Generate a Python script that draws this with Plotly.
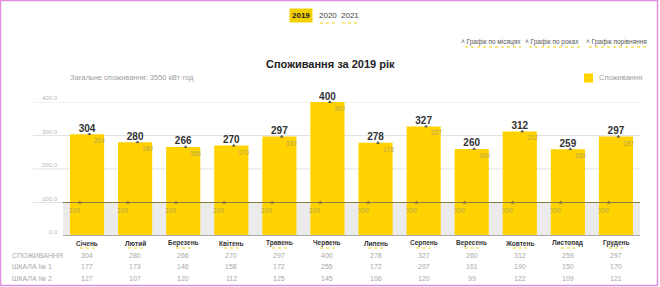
import plotly.graph_objects as go

months = ["Січень", "Лютий", "Березень", "Квітень", "Травень", "Червень",
          "Липень", "Серпень", "Вересень", "Жовтень", "Листопад", "Грудень"]
consumption = [304, 280, 266, 270, 297, 400, 278, 327, 260, 312, 259, 297]
scale1 = [177, 173, 146, 158, 172, 255, 172, 207, 161, 190, 150, 170]
scale2 = [127, 107, 120, 112, 125, 145, 106, 120, 99, 122, 109, 121]
inner_labels = [204, 180, 166, 170, 197, 300, 178, 227, 160, 212, 159, 197]
base_level = 100
y_ticks = [0, 100, 200, 300, 400]
row_names = ["СПОЖИВАННЯ", "ШКАЛА № 1", "ШКАЛА № 2"]
years = ["2019", "2020", "2021"]
links = ["˄ Графік по місяцях", "˄ Графік по роках", "˄ Графік порівняння"]
total = 3550

FONT = "Liberation Sans, Arial, sans-serif"
YELLOW = "#FFD200"
x = list(range(len(months)))

L, R, T, B = 63, 640, 102, 236
def px(q):
    return (q - L) / (R - L)
def py(p):
    return (B - p) / (B - T)

fig = go.Figure()
fig.add_trace(go.Bar(x=x, y=consumption, marker=dict(color=YELLOW, line=dict(width=0)),
                     name="Споживання", showlegend=False, hoverinfo="skip"))
fig.add_trace(go.Scatter(x=x, y=consumption, mode="text",
                         text=["<b>" + str(v) + "</b>" for v in consumption],
                         textposition="top center", cliponaxis=False, showlegend=False,
                         textfont=dict(family=FONT, size=10, color="#333333"), hoverinfo="skip"))
fig.add_trace(go.Scatter(x=[i + 0.05 for i in x], y=consumption, mode="markers", showlegend=False,
                         marker=dict(symbol="triangle-up", size=3.5, color="#555555"),
                         cliponaxis=False, hoverinfo="skip"))
fig.add_trace(go.Scatter(x=[i - 0.15 for i in x], y=[base_level] * len(x), mode="markers",
                         showlegend=False, marker=dict(symbol="triangle-up", size=3.5, color="#555555"),
                         cliponaxis=False, hoverinfo="skip"))

ann = []
shapes = []
shapes.append(dict(type="rect", xref="paper", yref="y", x0=0, x1=1, y0=0, y1=base_level,
                   fillcolor="#ebebeb", line=dict(width=0), layer="below"))
for t in y_ticks[2:]:
    shapes.append(dict(type="line", xref="paper", yref="y", x0=px(33), x1=1, y0=t, y1=t,
                       line=dict(color="#e2e2e2", width=1), layer="below"))
shapes.append(dict(type="line", xref="paper", yref="y", x0=px(33), x1=0, y0=base_level, y1=base_level,
                   line=dict(color="#e2e2e2", width=1), layer="below"))
shapes.append(dict(type="line", xref="paper", yref="y", x0=0, x1=1, y0=base_level, y1=base_level,
                   line=dict(color="#8c7b3a", width=1), layer="above"))
shapes.append(dict(type="line", xref="paper", yref="y", x0=0, x1=1, y0=0, y1=0,
                   line=dict(color="#a8a8a8", width=2), layer="above"))

for i in x:
    ann.append(dict(x=i, y=consumption[i], xref="x", yref="y", text=str(inner_labels[i]),
                    showarrow=False, xanchor="left", yanchor="top", xshift=5, yshift=-1,
                    font=dict(family=FONT, size=6.5, color="#b3a25a")))
    ann.append(dict(x=i, y=base_level, xref="x", yref="y", text=str(base_level),
                    showarrow=False, xanchor="right", yanchor="top", xshift=-5, yshift=-2,
                    font=dict(family=FONT, size=6.5, color="#b3a25a")))
    ann.append(dict(x=i, y=py(243), xref="x", yref="paper", text="<b>" + months[i] + "</b>",
                    showarrow=False, xanchor="center", yanchor="middle",
                    font=dict(family=FONT, size=6.5, color="#333333")))
    shapes.append(dict(type="line", xref="x", yref="paper", x0=i - 0.15, x1=i + 0.15,
                       y0=py(248), y1=py(248), line=dict(color="#f0d000", width=1, dash="dot")))
    for r, row in enumerate([consumption, scale1, scale2]):
        ann.append(dict(x=i, y=py(255 + r * 11.5), xref="x", yref="paper", text=str(row[i]),
                        showarrow=False, xanchor="center", yanchor="middle",
                        font=dict(family=FONT, size=7, color="#a8a8a8")))

for r, name in enumerate(row_names):
    ann.append(dict(x=px(10), y=py(255 + r * 11.5), xref="paper", yref="paper", text=name,
                    showarrow=False, xanchor="left", yanchor="middle",
                    font=dict(family=FONT, size=7, color="#a8a8a8")))

for t in y_ticks:
    ann.append(dict(x=px(60), y=t, xref="paper", yref="y", text=f"{t:.1f}", showarrow=False,
                    xanchor="right", yanchor="bottom", yshift=-1,
                    font=dict(family=FONT, size=6, color="#b8b8b8")))

ann.append(dict(x=px(330), y=py(64), xref="paper", yref="paper", text="<b>Споживання за 2019 рік</b>",
                showarrow=False, xanchor="center", yanchor="middle",
                font=dict(family=FONT, size=11, color="#222222")))
ann.append(dict(x=px(68), y=py(78), xref="paper", yref="paper",
                text=f"Загальне споживання: {total} кВт·год", showarrow=False,
                xanchor="left", yanchor="middle", font=dict(family=FONT, size=7.5, color="#a0a0a0")))

shapes.append(dict(type="rect", xref="paper", yref="paper", x0=px(584), x1=px(593),
                   y0=py(82.5), y1=py(73.5), fillcolor=YELLOW, line=dict(width=0)))
ann.append(dict(x=px(597), y=py(78), xref="paper", yref="paper", text="Споживання",
                showarrow=False, xanchor="left", yanchor="middle",
                font=dict(family=FONT, size=7.5, color="#a0a0a0")))

ycent = [301, 328, 350]
for k, yr in enumerate(years):
    if k == 0:
        ann.append(dict(x=px(ycent[k]), y=py(16), xref="paper", yref="paper", text="<b>" + yr + "</b>",
                        showarrow=False, xanchor="center", yanchor="middle", bgcolor="#f5d000",
                        borderpad=2, font=dict(family=FONT, size=8, color="#222222")))
    else:
        ann.append(dict(x=px(ycent[k]), y=py(16), xref="paper", yref="paper", text=yr,
                        showarrow=False, xanchor="center", yanchor="middle",
                        font=dict(family=FONT, size=8, color="#444444")))
        shapes.append(dict(type="line", xref="paper", yref="paper", x0=px(ycent[k] - 8), x1=px(ycent[k] + 8),
                           y0=py(23), y1=py(23), line=dict(color="#f0d000", width=1, dash="dot")))

lspan = [(460, 521), (524, 580), (584, 649)]
for k, lk in enumerate(links):
    a, b = lspan[k]
    ann.append(dict(x=px((a + b) / 2), y=py(42), xref="paper", yref="paper", text=lk,
                    showarrow=False, xanchor="center", yanchor="middle",
                    font=dict(family=FONT, size=6.5, color="#555555")))
    shapes.append(dict(type="line", xref="paper", yref="paper", x0=px(a + 5), x1=px(b),
                       y0=py(47), y1=py(47), line=dict(color="#f0d000", width=1, dash="dot")))

shapes.append(dict(type="rect", xref="paper", yref="paper", x0=px(0.5), x1=px(657.5), y0=py(0.5), y1=py(285.5),
                   line=dict(color="#e08ee0", width=1.5), fillcolor="rgba(0,0,0,0)"))

fig.update_layout(
    width=660, height=287,
    margin=dict(l=L, r=660 - R, t=T, b=287 - B, autoexpand=False),
    paper_bgcolor="white", plot_bgcolor="white",
    bargap=0.29,
    showlegend=False,
    xaxis=dict(range=[-0.5, 11.5], showticklabels=False, showgrid=False, zeroline=False,
               showline=False, fixedrange=True),
    yaxis=dict(range=[0, 400], showticklabels=False, showgrid=False, zeroline=False,
               showline=False, fixedrange=True),
    annotations=ann, shapes=shapes,
    font=dict(family=FONT),
)
fig.write_html("out.html")
